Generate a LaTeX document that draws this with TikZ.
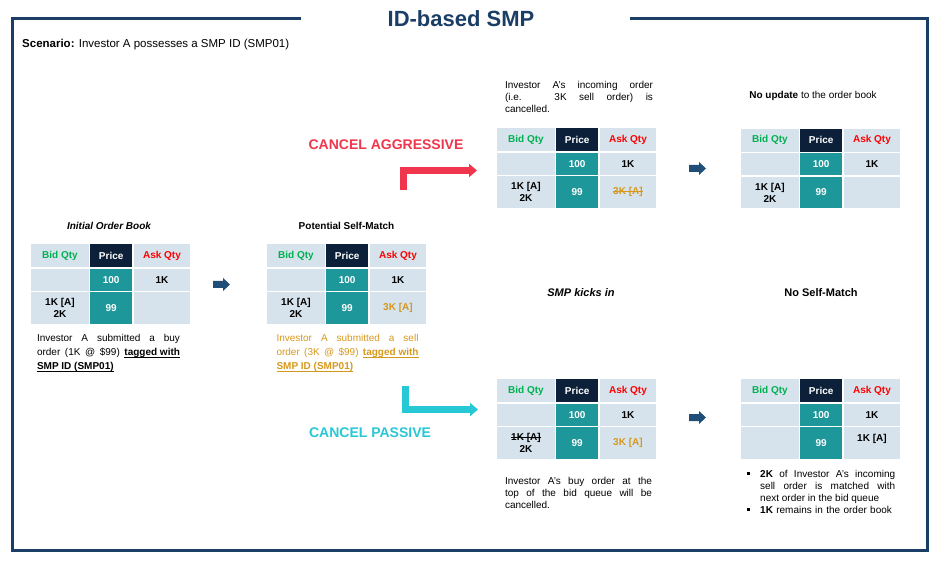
\documentclass[tikz,border=0pt]{standalone}
\usepackage{fontspec}
\setmainfont{Liberation Sans}
\usetikzlibrary{arrows.meta}
\definecolor{framec}{RGB}{26,62,102}
\definecolor{cellbg}{RGB}{214,227,236}
\definecolor{pricehd}{RGB}{12,33,57}
\definecolor{pricec}{RGB}{30,151,155}
\definecolor{bidgreen}{RGB}{0,176,80}
\definecolor{askred}{RGB}{255,0,0}
\definecolor{smporange}{RGB}{214,152,28}
\definecolor{aggred}{RGB}{240,54,76}
\definecolor{pascyan}{RGB}{39,200,213}
\definecolor{arrowblue}{RGB}{31,78,121}
\newcommand\strk[1]{\setbox0\hbox{#1}\rlap{\rule[0.32em]{\wd0}{0.7pt}}\box0}
\newcommand\ulin[1]{\setbox0\hbox{#1}\rlap{\rule[-2pt]{\wd0}{0.8pt}}\box0}
\tikzset{
  cell/.style={fill=cellbg, draw=none, inner sep=0pt, anchor=north west, align=center,
    font=\fontsize{10}{12}\selectfont\bfseries},
  bidcol/.style={minimum width=57.5pt},
  pricecol/.style={minimum width=42pt},
  askcol/.style={minimum width=56.5pt},
  hdrrow/.style={minimum height=23pt},
  midrow/.style={minimum height=22pt},
  lowrow/.style={minimum height=31.5pt},
  desc/.style={inner sep=0pt, anchor=north, align=justify,
    font=\fontsize{10}{14}\selectfont},
  desc12/.style={inner sep=0pt, anchor=north, align=justify,
    font=\fontsize{10}{12}\selectfont},
  caption/.style={inner sep=0pt, font=\fontsize{10}{12}\selectfont\bfseries},
  blockarrow/.style={fill=arrowblue, draw=none},
  bulletmark/.style={fill=black, draw=none, inner sep=0pt, minimum size=3pt},
  lpath/.style={line width=7pt, line join=miter, -{Triangle[width=13pt,length=8pt]}},
}
% #1 prefix, #2 x, #3 y, #4 bid low row, #5 ask low row
\newcommand\obook[5]{%
\begin{scope}[shift={(#2,#3)}]
  \node[cell,bidcol,hdrrow] (#1bh) at (0,0) {\color{bidgreen}Bid Qty};
  \node[cell,pricecol,hdrrow,fill=pricehd,text=white] (#1ph) at (59,0) {Price};
  \node[cell,askcol,hdrrow] (#1ah) at (102.5,0) {\color{askred}Ask Qty};
  \node[cell,bidcol,midrow] (#1bm) at (0,24.5) {};
  \node[cell,pricecol,midrow,fill=pricec,text=white] (#1pm) at (59,24.5) {100};
  \node[cell,askcol,midrow] (#1am) at (102.5,24.5) {1K};
  \node[cell,bidcol,lowrow] (#1bl) at (0,48) {#4};
  \node[cell,pricecol,lowrow,fill=pricec,text=white] (#1pl) at (59,48) {99};
  \node[cell,askcol,lowrow] (#1al) at (102.5,48) {#5};
\end{scope}}
\newcommand\blkarrow[2]{% #1 x of tail, #2 y centre
  \fill[blockarrow] (#1,#2-3.5) -- (#1+10,#2-3.5) -- (#1+10,#2-6.5) -- (#1+17,#2)
    -- (#1+10,#2+6.5) -- (#1+10,#2+3.5) -- (#1,#2+3.5) -- cycle;}
\begin{document}
\begin{tikzpicture}[x=1pt,y=-1pt]
\useasboundingbox (0,0) rectangle (937,561);
% frame
\draw[framec, line width=3pt] (301,18.5) -- (12.5,18.5) -- (12.5,550) -- (927,550) -- (927,18.5) -- (630,18.5);
\node[text=framec, font=\fontsize{22}{24}\selectfont\bfseries, inner sep=0pt] (title) at (461,19) {ID-based SMP};
\node[anchor=west, inner sep=0pt, font=\fontsize{11.5}{13}\selectfont] (scen) at (22,45) {\textbf{Scenario:} Investor A possesses a SMP ID (SMP01)};

% initial order book
\node[caption, font=\fontsize{10}{12}\selectfont\bfseries\itshape] (cap1) at (109,226) {Initial Order Book};
\obook{a}{31}{244}{1K [A]\\2K}{}
\node[desc, text width=143pt] (d1) at (108.5,334) {Investor A submitted a buy\linebreak order (1K @ \$99) \ulin{\textbf{tagged with}}\linebreak \ulin{\textbf{SMP ID (SMP01)}}};
\blkarrow{213}{284.5}

% potential self-match
\node[caption] (cap2) at (346.5,226) {Potential Self-Match};
\obook{b}{267}{244}{1K [A]\\2K}{\color{smporange}3K [A]}
\node[desc, text width=142pt, text=smporange] (d2) at (347.5,334) {Investor A submitted a sell\linebreak order (3K @ \$99) \ulin{\textbf{tagged with}}\linebreak \ulin{\textbf{SMP ID (SMP01)}}};

% branches
\node[text=aggred, inner sep=0pt, font=\fontsize{14}{16}\selectfont\bfseries] (lagg) at (386,145) {CANCEL AGGRESSIVE};
\node[text=pascyan, inner sep=0pt, font=\fontsize{14}{16}\selectfont\bfseries] (lpas) at (370,433) {CANCEL PASSIVE};
\coordinate (aggstart) at (403.5,190);
\coordinate (aggcorner) at (403.5,170.5);
\coordinate (aggend) at (477,170.5);
\draw[lpath, aggred] (aggstart) -- (aggcorner) -- (aggend);
\coordinate (passtart) at (405.5,386);
\coordinate (pascorner) at (405.5,409.5);
\coordinate (pasend) at (478,409.5);
\draw[lpath, pascyan] (passtart) -- (pascorner) -- (pasend);

\node[inner sep=0pt, font=\fontsize{11}{13}\selectfont\bfseries\itshape] (kick) at (581,293) {SMP kicks in};
\node[inner sep=0pt, font=\fontsize{11}{13}\selectfont\bfseries] (noself) at (821,293) {No Self-Match};

% aggressive
\node[desc12, text width=148pt] (d3) at (579,81) {Investor A’s incoming order\linebreak (i.e. 3K sell order) is\linebreak cancelled.};
\obook{c}{497}{128}{1K [A]\\2K}{\color{smporange}\strk{3K [A]}}
\blkarrow{689}{168.5}
\node[inner sep=0pt, font=\fontsize{10}{12}\selectfont] (d4) at (813,96) {\textbf{No update} to the order book};
\obook{d}{741}{128.5}{1K [A]\\2K}{}

% passive
\obook{e}{497}{379}{\strk{1K [A]}\\2K}{\color{smporange}3K [A]}
\node[desc12, text width=147pt] (d5) at (578.5,477) {Investor A’s buy order at the\linebreak top of the bid queue will be\linebreak cancelled.};
\blkarrow{689}{417.5}
\obook{f}{741}{379}{}{\raisebox{10pt}{1K [A]}}
\node[bulletmark] (b1) at (748,473) {};
\node[desc12, text width=135pt, anchor=north west] (d6) at (760,470) {\textbf{2K} of Investor A’s incoming\linebreak sell order is matched with\linebreak next order in the bid queue};
\node[bulletmark] (b2) at (748,509) {};
\node[desc12, text width=135pt, anchor=west, align=left] (d7) at (760,509.5) {\textbf{1K} remains in the order book};
\end{tikzpicture}
\end{document}
